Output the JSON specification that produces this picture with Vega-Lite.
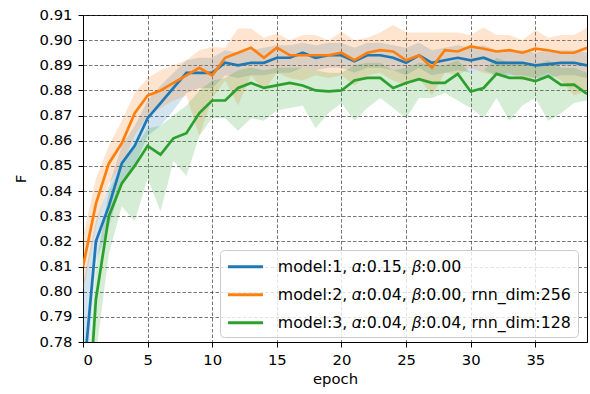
{
  "$schema": "https://vega.github.io/schema/vega-lite/v6.json",
  "width": 504,
  "height": 327,
  "autosize": {"type": "none"},
  "padding": {"left": 83, "top": 15, "right": 3, "bottom": 52},
  "background": "white",
  "config": {
    "font": "DejaVu Sans",
    "view": {"stroke": "black", "strokeWidth": 1},
    "axis": {
      "labelFont": "DejaVu Sans", "labelFontSize": 14.8, "labelColor": "black", "labelOverlap": false,
      "titleFont": "DejaVu Sans", "titleFontSize": 14.8, "titleFontWeight": "normal", "titleColor": "black",
      "tickColor": "black", "tickSize": 5, "domainColor": "black", "labelPadding": 5,
      "gridColor": "#333333", "gridDash": [3.5, 2], "gridOpacity": 0.75, "gridWidth": 0.9
    }
  },
  "data": {
    "values": [
      {"m":1,"epoch":0,"mean":0.764,"lo":0.745,"hi":0.803},
      {"m":1,"epoch":1,"mean":0.820,"lo":0.812,"hi":0.828},
      {"m":1,"epoch":2,"mean":0.834,"lo":0.826,"hi":0.842},
      {"m":1,"epoch":3,"mean":0.851,"lo":0.843,"hi":0.858},
      {"m":1,"epoch":4,"mean":0.858,"lo":0.850,"hi":0.866},
      {"m":1,"epoch":5,"mean":0.869,"lo":0.862,"hi":0.876},
      {"m":1,"epoch":6,"mean":0.875,"lo":0.866,"hi":0.882},
      {"m":1,"epoch":7,"mean":0.881,"lo":0.872,"hi":0.887},
      {"m":1,"epoch":8,"mean":0.887,"lo":0.879,"hi":0.892},
      {"m":1,"epoch":9,"mean":0.887,"lo":0.881,"hi":0.893},
      {"m":1,"epoch":10,"mean":0.887,"lo":0.881,"hi":0.893},
      {"m":1,"epoch":11,"mean":0.891,"lo":0.886,"hi":0.896},
      {"m":1,"epoch":12,"mean":0.890,"lo":0.885,"hi":0.895},
      {"m":1,"epoch":13,"mean":0.891,"lo":0.886,"hi":0.896},
      {"m":1,"epoch":14,"mean":0.891,"lo":0.886,"hi":0.897},
      {"m":1,"epoch":15,"mean":0.893,"lo":0.887,"hi":0.898},
      {"m":1,"epoch":16,"mean":0.893,"lo":0.887,"hi":0.898},
      {"m":1,"epoch":17,"mean":0.895,"lo":0.889,"hi":0.899},
      {"m":1,"epoch":18,"mean":0.893,"lo":0.888,"hi":0.898},
      {"m":1,"epoch":19,"mean":0.894,"lo":0.889,"hi":0.899},
      {"m":1,"epoch":20,"mean":0.894,"lo":0.889,"hi":0.899},
      {"m":1,"epoch":21,"mean":0.8916,"lo":0.887,"hi":0.897},
      {"m":1,"epoch":22,"mean":0.894,"lo":0.889,"hi":0.899},
      {"m":1,"epoch":23,"mean":0.894,"lo":0.889,"hi":0.899},
      {"m":1,"epoch":24,"mean":0.893,"lo":0.888,"hi":0.898},
      {"m":1,"epoch":25,"mean":0.891,"lo":0.886,"hi":0.897},
      {"m":1,"epoch":26,"mean":0.894,"lo":0.889,"hi":0.899},
      {"m":1,"epoch":27,"mean":0.891,"lo":0.886,"hi":0.896},
      {"m":1,"epoch":28,"mean":0.892,"lo":0.887,"hi":0.897},
      {"m":1,"epoch":29,"mean":0.893,"lo":0.888,"hi":0.898},
      {"m":1,"epoch":30,"mean":0.892,"lo":0.887,"hi":0.897},
      {"m":1,"epoch":31,"mean":0.893,"lo":0.888,"hi":0.898},
      {"m":1,"epoch":32,"mean":0.891,"lo":0.886,"hi":0.896},
      {"m":1,"epoch":33,"mean":0.891,"lo":0.886,"hi":0.896},
      {"m":1,"epoch":34,"mean":0.891,"lo":0.886,"hi":0.896},
      {"m":1,"epoch":35,"mean":0.890,"lo":0.885,"hi":0.895},
      {"m":1,"epoch":36,"mean":0.8905,"lo":0.885,"hi":0.896},
      {"m":1,"epoch":37,"mean":0.891,"lo":0.886,"hi":0.896},
      {"m":1,"epoch":38,"mean":0.891,"lo":0.886,"hi":0.896},
      {"m":1,"epoch":39,"mean":0.890,"lo":0.885,"hi":0.895},
      {"m":2,"epoch":0,"mean":0.810,"lo":0.800,"hi":0.822},
      {"m":2,"epoch":1,"mean":0.835,"lo":0.826,"hi":0.845},
      {"m":2,"epoch":2,"mean":0.851,"lo":0.843,"hi":0.858},
      {"m":2,"epoch":3,"mean":0.859,"lo":0.850,"hi":0.868},
      {"m":2,"epoch":4,"mean":0.871,"lo":0.862,"hi":0.879},
      {"m":2,"epoch":5,"mean":0.878,"lo":0.870,"hi":0.885},
      {"m":2,"epoch":6,"mean":0.880,"lo":0.873,"hi":0.888},
      {"m":2,"epoch":7,"mean":0.883,"lo":0.876,"hi":0.890},
      {"m":2,"epoch":8,"mean":0.886,"lo":0.878,"hi":0.892},
      {"m":2,"epoch":9,"mean":0.889,"lo":0.862,"hi":0.896},
      {"m":2,"epoch":10,"mean":0.886,"lo":0.877,"hi":0.8973},
      {"m":2,"epoch":11,"mean":0.893,"lo":0.884,"hi":0.897},
      {"m":2,"epoch":12,"mean":0.895,"lo":0.874,"hi":0.9046},
      {"m":2,"epoch":13,"mean":0.897,"lo":0.886,"hi":0.9046},
      {"m":2,"epoch":14,"mean":0.893,"lo":0.880,"hi":0.901},
      {"m":2,"epoch":15,"mean":0.897,"lo":0.887,"hi":0.9027},
      {"m":2,"epoch":16,"mean":0.894,"lo":0.885,"hi":0.900},
      {"m":2,"epoch":17,"mean":0.894,"lo":0.884,"hi":0.902},
      {"m":2,"epoch":18,"mean":0.894,"lo":0.886,"hi":0.902},
      {"m":2,"epoch":19,"mean":0.894,"lo":0.885,"hi":0.900},
      {"m":2,"epoch":20,"mean":0.895,"lo":0.886,"hi":0.9033},
      {"m":2,"epoch":21,"mean":0.892,"lo":0.882,"hi":0.900},
      {"m":2,"epoch":22,"mean":0.895,"lo":0.886,"hi":0.901},
      {"m":2,"epoch":23,"mean":0.896,"lo":0.887,"hi":0.903},
      {"m":2,"epoch":24,"mean":0.8955,"lo":0.884,"hi":0.906},
      {"m":2,"epoch":25,"mean":0.892,"lo":0.882,"hi":0.903},
      {"m":2,"epoch":26,"mean":0.894,"lo":0.885,"hi":0.903},
      {"m":2,"epoch":27,"mean":0.889,"lo":0.878,"hi":0.903},
      {"m":2,"epoch":28,"mean":0.896,"lo":0.887,"hi":0.903},
      {"m":2,"epoch":29,"mean":0.8955,"lo":0.886,"hi":0.903},
      {"m":2,"epoch":30,"mean":0.8975,"lo":0.889,"hi":0.902},
      {"m":2,"epoch":31,"mean":0.8966,"lo":0.887,"hi":0.905},
      {"m":2,"epoch":32,"mean":0.8955,"lo":0.886,"hi":0.902},
      {"m":2,"epoch":33,"mean":0.896,"lo":0.887,"hi":0.902},
      {"m":2,"epoch":34,"mean":0.895,"lo":0.884,"hi":0.900},
      {"m":2,"epoch":35,"mean":0.8966,"lo":0.885,"hi":0.904},
      {"m":2,"epoch":36,"mean":0.896,"lo":0.887,"hi":0.901},
      {"m":2,"epoch":37,"mean":0.895,"lo":0.884,"hi":0.902},
      {"m":2,"epoch":38,"mean":0.895,"lo":0.878,"hi":0.902},
      {"m":2,"epoch":39,"mean":0.897,"lo":0.880,"hi":0.905},
      {"m":3,"epoch":0,"mean":0.720,"lo":0.700,"hi":0.740},
      {"m":3,"epoch":1,"mean":0.797,"lo":0.775,"hi":0.810},
      {"m":3,"epoch":2,"mean":0.830,"lo":0.815,"hi":0.840},
      {"m":3,"epoch":3,"mean":0.843,"lo":0.834,"hi":0.851},
      {"m":3,"epoch":4,"mean":0.850,"lo":0.828,"hi":0.857},
      {"m":3,"epoch":5,"mean":0.858,"lo":0.845,"hi":0.865},
      {"m":3,"epoch":6,"mean":0.8545,"lo":0.832,"hi":0.866},
      {"m":3,"epoch":7,"mean":0.861,"lo":0.852,"hi":0.870},
      {"m":3,"epoch":8,"mean":0.863,"lo":0.846,"hi":0.874},
      {"m":3,"epoch":9,"mean":0.871,"lo":0.862,"hi":0.880},
      {"m":3,"epoch":10,"mean":0.876,"lo":0.869,"hi":0.884},
      {"m":3,"epoch":11,"mean":0.876,"lo":0.869,"hi":0.885},
      {"m":3,"epoch":12,"mean":0.881,"lo":0.864,"hi":0.888},
      {"m":3,"epoch":13,"mean":0.883,"lo":0.869,"hi":0.889},
      {"m":3,"epoch":14,"mean":0.881,"lo":0.868,"hi":0.888},
      {"m":3,"epoch":15,"mean":0.882,"lo":0.872,"hi":0.889},
      {"m":3,"epoch":16,"mean":0.883,"lo":0.873,"hi":0.889},
      {"m":3,"epoch":17,"mean":0.882,"lo":0.874,"hi":0.889},
      {"m":3,"epoch":18,"mean":0.880,"lo":0.865,"hi":0.888},
      {"m":3,"epoch":19,"mean":0.8796,"lo":0.871,"hi":0.887},
      {"m":3,"epoch":20,"mean":0.880,"lo":0.875,"hi":0.887},
      {"m":3,"epoch":21,"mean":0.884,"lo":0.868,"hi":0.890},
      {"m":3,"epoch":22,"mean":0.885,"lo":0.873,"hi":0.891},
      {"m":3,"epoch":23,"mean":0.885,"lo":0.877,"hi":0.891},
      {"m":3,"epoch":24,"mean":0.881,"lo":0.873,"hi":0.888},
      {"m":3,"epoch":25,"mean":0.883,"lo":0.869,"hi":0.889},
      {"m":3,"epoch":26,"mean":0.8845,"lo":0.877,"hi":0.891},
      {"m":3,"epoch":27,"mean":0.883,"lo":0.877,"hi":0.890},
      {"m":3,"epoch":28,"mean":0.883,"lo":0.879,"hi":0.890},
      {"m":3,"epoch":29,"mean":0.8866,"lo":0.876,"hi":0.892},
      {"m":3,"epoch":30,"mean":0.8796,"lo":0.873,"hi":0.887},
      {"m":3,"epoch":31,"mean":0.881,"lo":0.869,"hi":0.888},
      {"m":3,"epoch":32,"mean":0.8866,"lo":0.877,"hi":0.893},
      {"m":3,"epoch":33,"mean":0.885,"lo":0.868,"hi":0.891},
      {"m":3,"epoch":34,"mean":0.885,"lo":0.874,"hi":0.891},
      {"m":3,"epoch":35,"mean":0.8837,"lo":0.877,"hi":0.890},
      {"m":3,"epoch":36,"mean":0.8857,"lo":0.868,"hi":0.892},
      {"m":3,"epoch":37,"mean":0.8822,"lo":0.871,"hi":0.889},
      {"m":3,"epoch":38,"mean":0.8823,"lo":0.875,"hi":0.889},
      {"m":3,"epoch":39,"mean":0.8786,"lo":0.876,"hi":0.887}
    ]
  },
  "encoding": {
    "x": {"field": "epoch", "type": "quantitative", "scale": {"domain": [0, 39], "nice": false, "zero": false},
          "axis": {"values": [0, 5, 10, 15, 20, 25, 30, 35], "title": "epoch", "grid": true, "labelOverlap": false, "labelFontSize": 14.8, "titleFontSize": 14.8, "titlePadding": 5}}
  },
  "layer": [
    {
      "mark": {"type": "area", "clip": true, "opacity": 0.2},
      "encoding": {
        "y": {"field": "lo", "type": "quantitative", "scale": {"domain": [0.78, 0.91], "nice": false, "zero": false},
              "axis": {"values": [0.78, 0.79, 0.8, 0.81, 0.82, 0.83, 0.84, 0.85, 0.86, 0.87, 0.88, 0.89, 0.9, 0.91], "tickCount": 14, "format": ".2f", "title": "F", "grid": true, "labelOverlap": false, "labelFontSize": 14.8, "titleFontSize": 14.8, "labelPadding": 6, "titlePadding": 11}},
        "y2": {"field": "hi"},
        "fill": {"field": "m", "type": "nominal", "scale": {"domain": [1, 2, 3, 4], "range": ["#1f77b4", "#ff7f0e", "#2ca02c", "#d62728"]}, "legend": null}
      }
    },
    {
      "mark": {"type": "line", "clip": true, "strokeWidth": 2.7},
      "encoding": {
        "y": {"field": "mean", "type": "quantitative",
              "axis": {"values": [0.78, 0.79, 0.8, 0.81, 0.82, 0.83, 0.84, 0.85, 0.86, 0.87, 0.88, 0.89, 0.9, 0.91], "tickCount": 14, "format": ".2f", "title": "F", "grid": true, "labelOverlap": false, "labelFontSize": 14.8, "titleFontSize": 14.8, "labelPadding": 6, "titlePadding": 11}},
        "stroke": {"field": "m", "type": "nominal", "scale": {"domain": [1, 2, 3], "range": ["#1f77b4", "#ff7f0e", "#2ca02c"]},
          "legend": {
            "title": null, "orient": "none", "legendX": 137, "legendY": 235,
            "symbolType": "M-1,0H3", "symbolSize": 306, "symbolStrokeWidth": 3, "symbolOpacity": 1,
            "labelFont": "DejaVu Sans", "labelFontSize": 15.8, "labelColor": "black", "labelOffset": 30.5, "labelLimit": 400,
            "rowPadding": 9, "padding": 6.25,
            "fillColor": "rgba(255,255,255,0.8)", "strokeColor": "#cccccc", "cornerRadius": 4,
            "labelExpr": "datum.value == 1 ? 'model:1, 𝛼:0.15, 𝛽:0.00' : datum.value == 2 ? 'model:2, 𝛼:0.04, 𝛽:0.00, rnn_dim:256' : 'model:3, 𝛼:0.04, 𝛽:0.04, rnn_dim:128'"
          }
        }
      }
    }
  ]
}
